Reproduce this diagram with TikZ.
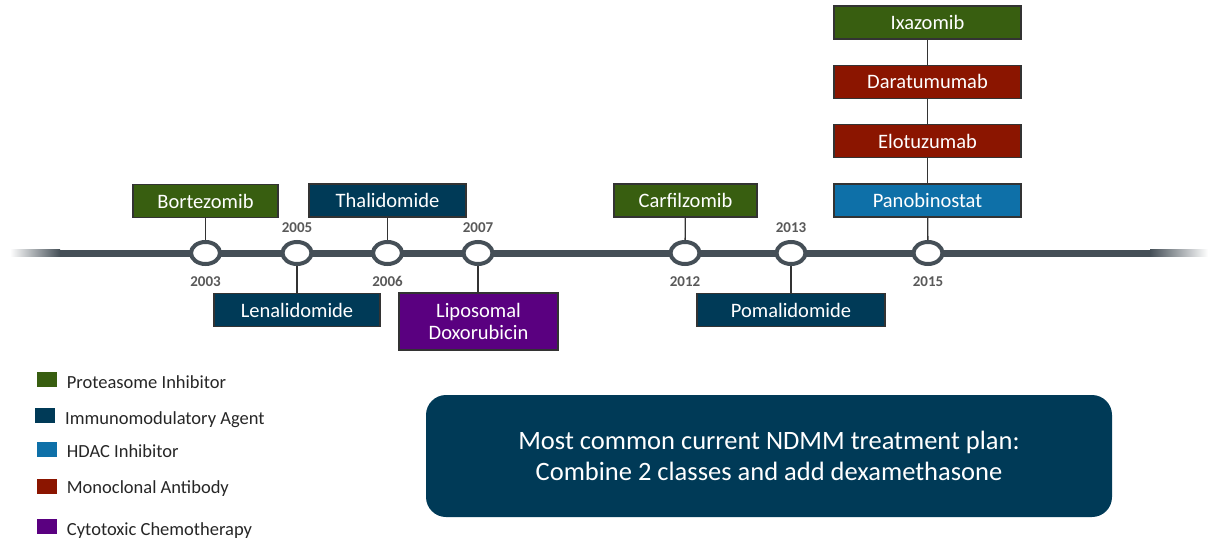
\documentclass[tikz,border=0pt]{standalone}
\usepackage{fontspec}
\setsansfont{Carlito}
\usetikzlibrary{shapes.geometric, positioning}
\usepackage{xcolor}
\definecolor{piGreen}{RGB}{56,94,16}
\definecolor{imNavy}{RGB}{0,58,87}
\definecolor{hdacBlue}{RGB}{14,112,168}
\definecolor{mabRed}{RGB}{139,21,0}
\definecolor{chemoPurple}{RGB}{90,0,128}
\definecolor{lineGray}{RGB}{69,79,87}
\definecolor{yearGray}{RGB}{89,89,89}
\tikzset{
    font=\sffamily,
    % Drug classes
    classGreen/.style={fill=piGreen},
    classNavy/.style={fill=imNavy},
    classBlue/.style={fill=hdacBlue},
    classRed/.style={fill=mabRed},
    classPurple/.style={fill=chemoPurple},
    % Shapes
    drug/.style={rectangle, draw=black!80, line width=1.3pt, text=white,
                 minimum height=33pt, inner sep=2pt, align=center,
                 font=\sffamily\fontsize{20.5}{22}\selectfont},
    yearmark/.style={ellipse, draw=lineGray, line width=4pt, fill=white,
                     minimum width=29pt, minimum height=22pt, inner sep=0pt},
    year/.style={text=yearGray, inner sep=1pt, font=\sffamily\bfseries\fontsize{15}{16}\selectfont},
    key/.style={rectangle, minimum width=20pt, minimum height=15pt, inner sep=0pt},
    keytext/.style={anchor=base west, inner sep=0pt, text=black!85,
                    font=\sffamily\fontsize{18.5}{20}\selectfont},
    % Connectors
    stem/.style={draw=black!80, line width=1.3pt}
}

\begin{document}
\begin{tikzpicture}[x=1pt, y=-1pt]
\useasboundingbox (0,0) rectangle (1208,541);

% timeline with faded ends
\fill[lineGray] (60,249.5) rectangle (1150,256.5);
\shade[left color=white, right color=lineGray] (10,249.5) rectangle (60,256.5);
\shade[left color=lineGray, right color=white] (1150,249.5) rectangle (1208,256.5);

\node[yearmark] (m2003) at (205.5,253) {};
\node[yearmark] (m2005) at (297,253) {};
\node[yearmark] (m2006) at (387.5,253) {};
\node[yearmark] (m2007) at (478,253) {};
\node[yearmark] (m2012) at (685,253) {};
\node[yearmark] (m2013) at (791,253) {};
\node[yearmark] (m2015) at (928,253) {};

\node[year, below=9pt of m2003] (t2003) {2003};
\node[year, above=6pt of m2005] (t2005) {2005};
\node[year, below=9pt of m2006] (t2006) {2006};
\node[year, above=6pt of m2007] (t2007) {2007};
\node[year, below=9pt of m2012] (t2012) {2012};
\node[year, above=6pt of m2013] (t2013) {2013};
\node[year, below=9pt of m2015] (t2015) {2015};

% drugs above the line
\node[drug, classGreen, minimum width=145pt] (bort) at (205.5,201) {Bortezomib};
\node[drug, classNavy, minimum width=157pt] (thal) at (387.5,200.5) {Thalidomide};
\node[drug, classGreen, minimum width=143pt] (carf) at (685.5,200.5) {Carfilzomib};
\node[drug, classBlue, minimum width=187pt] (pano) at (927.5,200.5) {Panobinostat};
\node[drug, classRed, minimum width=187pt, above=25pt of pano] (elot) {Elotuzumab};
\node[drug, classRed, minimum width=187pt, above=25pt of elot] (dara) {Daratumumab};
\node[drug, classGreen, minimum width=187pt, above=25pt of dara] (ixa) {Ixazomib};

% drugs below the line
\node[drug, classNavy, minimum width=166pt] (lena) at (297,310) {Lenalidomide};
\node[drug, classPurple, minimum width=159pt, minimum height=57pt] (lipo) at (478.5,321.5) {Liposomal\\Doxorubicin};
\node[drug, classNavy, minimum width=188pt] (poma) at (791,310) {Pomalidomide};

\draw[stem] (bort) -- (m2003);
\draw[stem] (thal) -- (m2006);
\draw[stem] (carf) -- (m2012);
\draw[stem] (pano) -- (m2015);
\draw[stem] (elot) -- (pano);
\draw[stem] (dara) -- (elot);
\draw[stem] (ixa) -- (dara);
\draw[stem] (m2005) -- (m2005 |- lena.north);
\draw[stem] (m2007) -- (m2007 |- lipo.north);
\draw[stem] (m2013) -- (m2013 |- poma.north);

% legend
\node[key, classGreen] (kPI) at (47,379.5) {};
\node[key, classNavy] (kIM) at (45,415.5) {};
\node[key, classBlue] (kHD) at (47,449.5) {};
\node[key, classRed] (kMA) at (47,486.5) {};
\node[key, classPurple] (kCT) at (47,526.5) {};
\node[keytext] (lPI) at (66.7,388) {Proteasome Inhibitor};
\node[keytext] (lIM) at (65,424.5) {Immunomodulatory Agent};
\node[keytext] (lHD) at (66.7,457) {HDAC Inhibitor};
\node[keytext] (lMA) at (66.7,493.5) {Monoclonal Antibody};
\node[keytext] (lCT) at (66.7,535) {Cytotoxic Chemotherapy};

% treatment plan note
\node[rectangle, rounded corners=20pt, fill=imNavy, text=white, align=center,
      minimum width=686pt, minimum height=122pt,
      font=\sffamily\fontsize{26.5}{31}\selectfont] (plan) at (769,456)
      {Most common current NDMM treatment plan:\\Combine 2 classes and add dexamethasone};

\end{tikzpicture}
\end{document}
